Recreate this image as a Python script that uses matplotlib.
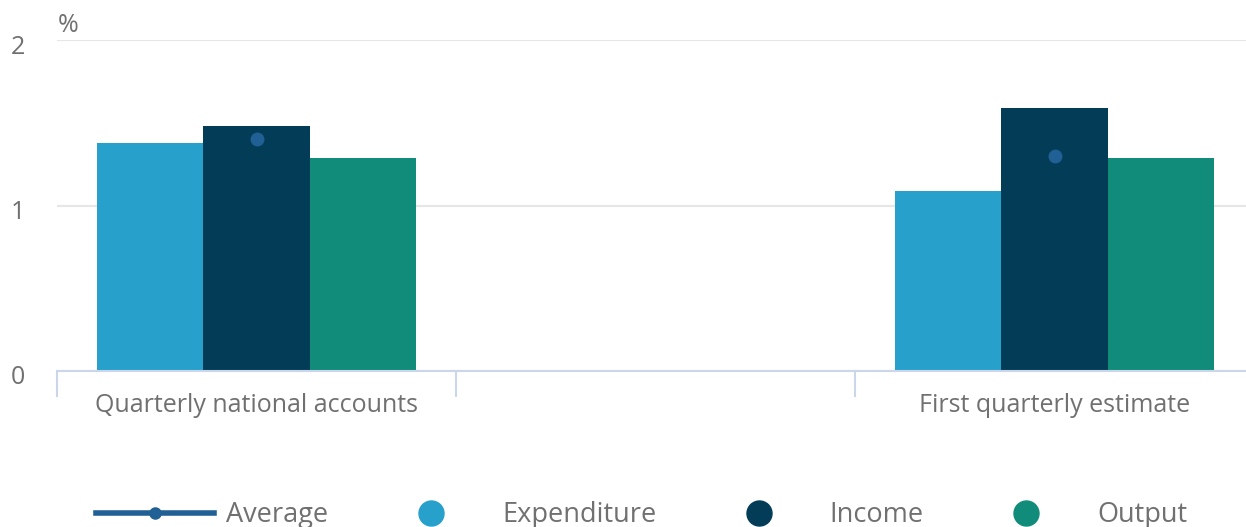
import numpy as np
import matplotlib.pyplot as plt
from matplotlib.lines import Line2D
from matplotlib.transforms import ScaledTranslation

plt.rcParams['font.family'] = ['Open Sans', 'DejaVu Sans']

# Data
categories = ["Quarterly national accounts", "", "First quarterly estimate"]
expenditure = [1.38, np.nan, 1.09]
income = [1.48, np.nan, 1.59]
output = [1.29, np.nan, 1.29]
average = [1.40, np.nan, 1.30]

c_exp = '#27a0cc'
c_inc = '#033c57'
c_out = '#118c7b'
c_avg = '#206095'
grey = '#707070'

fig = plt.figure(figsize=(12.46, 5.27), dpi=100)
ax = fig.add_axes([57 / 1246, 1 - 371 / 527, 1197 / 1246, 331 / 527])

x = np.arange(len(categories))
w = 0.266
ax.bar(x - w, expenditure, w, color=c_exp, zorder=2)
ax.bar(x, income, w, color=c_inc, zorder=2)
ax.bar(x + w, output, w, color=c_out, zorder=2)
ax.plot(x, average, 'o', color=c_avg, markersize=9, zorder=3)

ax.set_xlim(-0.5, 2.5)
ax.set_ylim(0, 2)

# axes styling
for s in ['left', 'right', 'top']:
    ax.spines[s].set_visible(False)
ax.spines['bottom'].set_color('#ccd6eb')
ax.spines['bottom'].set_linewidth(1.5)

ax.set_yticks([0, 1, 2])
ax.set_yticklabels(['0', '1', '2'])
ax.yaxis.grid(True, color='#e6e6e6', linewidth=1.5, zorder=0)
ax.set_axisbelow(True)
ax.tick_params(axis='y', length=0, pad=23, labelsize=18, labelcolor=grey)
for lab in ax.get_yticklabels():
    lab.set_transform(lab.get_transform() + ScaledTranslation(0, -4 / 100, fig.dpi_scale_trans))

ax.set_xticks(x)
ax.set_xticklabels(categories)
ax.set_xticks(np.arange(-0.5, 2.5, 1), minor=True)
ax.tick_params(axis='x', which='major', length=0, pad=16, labelsize=18, labelcolor=grey)
ax.tick_params(axis='x', which='minor', length=19, width=1.5, color='#ccd6eb', direction='out')

fig.text(58 / 1246, 1 - 26 / 527, '%', fontsize=18, color=grey, va='center', ha='left')

handles = [
    Line2D([], [], color=c_avg, linewidth=4, marker='o', markersize=8),
    Line2D([], [], linestyle='none', marker='o', color=c_exp, markersize=18),
    Line2D([], [], linestyle='none', marker='o', color=c_inc, markersize=18),
    Line2D([], [], linestyle='none', marker='o', color=c_out, markersize=18),
]
leg = fig.legend(handles, ['Average', 'Expenditure', 'Income', 'Output'],
                 loc='center left', bbox_to_anchor=(96 / 1246, 1 - 515 / 527),
                 ncol=4, frameon=False, fontsize=19.5, borderpad=0, borderaxespad=0,
                 handlelength=4.37, handletextpad=0.44, columnspacing=1.6)
for t in leg.get_texts():
    t.set_color(grey)

fig.savefig('out.png', dpi=100)
